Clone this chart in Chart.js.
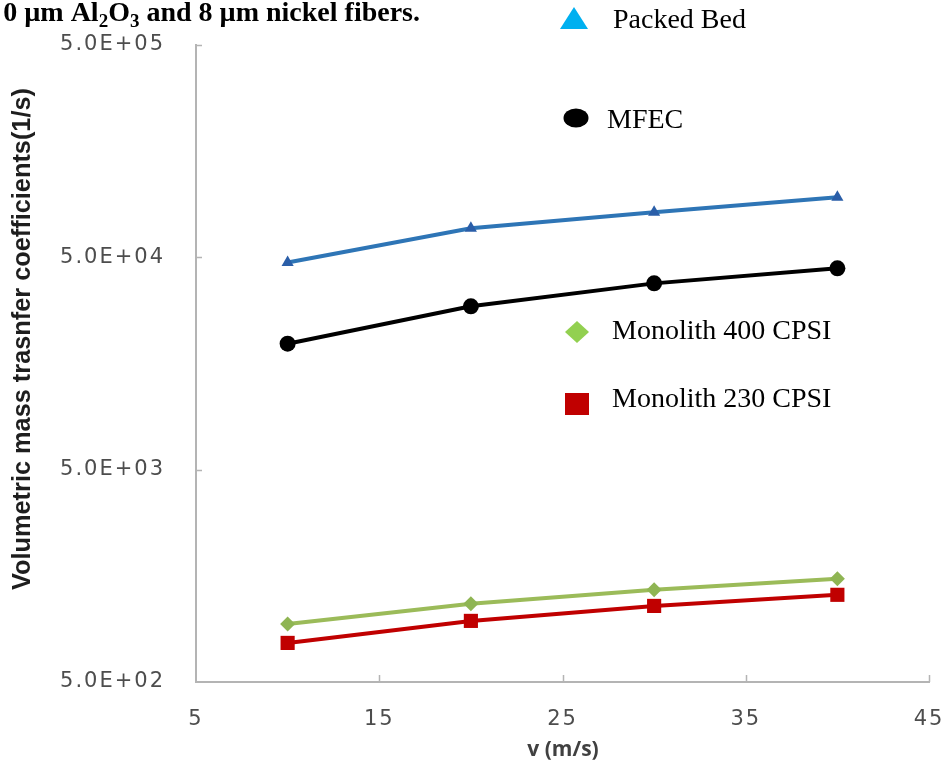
<!DOCTYPE html>
<html>
<head>
<meta charset="utf-8">
<script src="https://cdn.jsdelivr.net/npm/chart.js@4/dist/chart.umd.min.js"></script>
<style>
  html, body { margin: 0; padding: 0; background: #ffffff; }
  #wrap { position: relative; width: 951px; height: 773px; }
</style>
</head>
<body>
<div id="wrap"><canvas id="chart" width="951" height="773"></canvas></div>
<script>
// Air velocity (m/s)
const velocities = [10, 20, 30, 40];

// Volumetric mass transfer coefficients (1/s)
const packedBed = [47300, 68500, 81500, 96000];
const mfec      = [19600, 29400, 37700, 44400];
const mono400   = [938, 1167, 1358, 1530];
const mono230   = [764, 970, 1141, 1287];

const seriesNames = ['Packed Bed', 'MFEC', 'Monolith 400 CPSI', 'Monolith 230 CPSI'];

// Axis tick values
const xTicks = [5, 15, 25, 35, 45];
const yTicks = [500, 5000, 50000, 500000];

const AXIS_GREY = '#b4b4b4';

function sci(v) {
  const e = Math.floor(Math.log10(v) + 1e-9);
  const m = v / Math.pow(10, e);
  return m.toFixed(1) + 'E+' + String(e).padStart(2, '0');
}

function pts(ys) {
  return velocities.map((x, i) => ({ x: x, y: ys[i] }));
}

// Small inward tick marks on both axes, plus all the free-standing text
const decorations = {
  id: 'decorations',
  beforeDraw(chart) {
    chart.ctx.letterSpacing = '2px';
  },
  afterDraw(chart) {
    const ctx = chart.ctx;
    ctx.letterSpacing = '0px';
    const area = chart.chartArea;
    const xs = chart.scales.x, ys = chart.scales.y;

    ctx.save();
    ctx.strokeStyle = AXIS_GREY;
    ctx.lineWidth = 1.5;
    ctx.beginPath();
    xTicks.slice(1).forEach(v => {
      const px = Math.round(xs.getPixelForValue(v)) + 0.5;
      ctx.moveTo(px, area.bottom);
      ctx.lineTo(px, area.bottom - 7);
    });
    yTicks.slice(1).forEach(v => {
      const py = Math.round(ys.getPixelForValue(v)) + 0.5;
      ctx.moveTo(area.left, py);
      ctx.lineTo(area.left + 6, py);
    });
    ctx.stroke();
    ctx.restore();

    // Caption fragment along the top edge
    ctx.save();
    ctx.fillStyle = '#000000';
    ctx.textBaseline = 'alphabetic';
    ctx.textAlign = 'left';
    const big = 'bold 28px "Liberation Serif"';
    const small = 'bold 19px "Liberation Serif"';
    const parts = [
      { t: '0 \u00b5m Al', f: big, dy: 0 },
      { t: '2', f: small, dy: 6 },
      { t: 'O', f: big, dy: 0 },
      { t: '3', f: small, dy: 6 },
      { t: ' and 8 \u00b5m nickel fibers.', f: big, dy: 0 }
    ];
    let total = 0;
    parts.forEach(p => { ctx.font = p.f; p.w = ctx.measureText(p.t).width; total += p.w; });
    let cx = 420 - total;
    parts.forEach(p => { ctx.font = p.f; ctx.fillText(p.t, cx, 21 + p.dy); cx += p.w; });
    ctx.restore();

    // Legend
    ctx.save();
    ctx.fillStyle = '#00b0f0';
    ctx.beginPath();
    ctx.moveTo(574, 7); ctx.lineTo(588, 29); ctx.lineTo(560, 29); ctx.closePath();
    ctx.fill();
    ctx.fillStyle = '#000000';
    ctx.beginPath();
    ctx.ellipse(576, 118, 12.5, 9.5, 0, 0, Math.PI * 2);
    ctx.fill();
    ctx.fillStyle = '#92d050';
    ctx.beginPath();
    ctx.moveTo(577, 321); ctx.lineTo(589, 332); ctx.lineTo(577, 343); ctx.lineTo(565, 332); ctx.closePath();
    ctx.fill();
    ctx.fillStyle = '#c00000';
    ctx.fillRect(565, 393, 24, 22);

    ctx.fillStyle = '#000000';
    ctx.font = '28px "Liberation Serif"';
    ctx.textBaseline = 'middle';
    ctx.textAlign = 'left';
    ctx.fillText(seriesNames[0], 613, 21);
    ctx.fillText(seriesNames[1], 607, 121);
    ctx.fillText(seriesNames[2], 612, 332);
    ctx.fillText(seriesNames[3], 612, 400);
    ctx.restore();

    // Axis titles
    ctx.save();
    ctx.fillStyle = '#1e1e1e';
    ctx.font = 'bold 25px "Liberation Sans"';
    const yTitle = 'Volumetric mass trasnfer coefficients(1/s)';
    const w = ctx.measureText(yTitle).width;
    ctx.translate(23, 339);
    ctx.rotate(-Math.PI / 2);
    ctx.scale(502 / w, 1);
    ctx.textAlign = 'center';
    ctx.textBaseline = 'middle';
    ctx.fillText(yTitle, 0, 0);
    ctx.restore();

    ctx.save();
    ctx.fillStyle = '#404040';
    ctx.font = 'bold 21px "Open Sans"';
    ctx.textAlign = 'center';
    ctx.textBaseline = 'middle';
    ctx.fillText('v (m/s)', 563, 750);
    ctx.restore();
  }
};

new Chart(document.getElementById('chart'), {
  type: 'line',
  data: {
    datasets: [
      {
        label: seriesNames[0],
        data: pts(packedBed),
        borderColor: '#2e75b6',
        backgroundColor: '#2a5ea8',
        borderWidth: 4,
        pointStyle: 'triangle',
        pointRadius: 7,
        pointBorderWidth: 0
      },
      {
        label: seriesNames[1],
        data: pts(mfec),
        borderColor: '#000000',
        backgroundColor: '#000000',
        borderWidth: 4,
        pointStyle: 'circle',
        pointRadius: 8,
        pointBorderWidth: 0
      },
      {
        label: seriesNames[2],
        data: pts(mono400),
        borderColor: '#9bbb59',
        backgroundColor: '#8fb553',
        borderWidth: 4,
        pointStyle: 'rectRot',
        pointRadius: 7.5,
        pointBorderWidth: 0
      },
      {
        label: seriesNames[3],
        data: pts(mono230),
        borderColor: '#c00000',
        backgroundColor: '#c00000',
        borderWidth: 4,
        pointStyle: 'rect',
        pointRadius: 10,
        pointBorderWidth: 0
      }
    ]
  },
  options: {
    responsive: false,
    animation: false,
    events: [],
    layout: { padding: { top: 45, right: 22, left: 0, bottom: 0 } },
    plugins: {
      legend: { display: false },
      tooltip: { enabled: false },
      title: { display: false }
    },
    scales: {
      x: {
        type: 'linear',
        min: 5,
        max: 45,
        afterBuildTicks(scale) { scale.ticks = xTicks.map(v => ({ value: v })); },
        afterFit(scale) {
          scale.height = 91;
          scale.paddingLeft = 0;
          scale.paddingRight = 0;
        },
        grid: { display: false, drawTicks: false },
        border: { display: true, color: AXIS_GREY, width: 2 },
        ticks: {
          padding: 25,
          color: '#4d4d4d',
          font: { family: '"DejaVu Sans"', size: 21 },
          maxRotation: 0,
          autoSkip: false
        }
      },
      y: {
        type: 'logarithmic',
        min: 500,
        max: 500000,
        afterBuildTicks(scale) { scale.ticks = yTicks.map(v => ({ value: v })); },
        afterFit(scale) {
          scale.width = 196;
          scale.paddingTop = 0;
          scale.paddingBottom = 0;
        },
        grid: { display: false, drawTicks: false },
        border: { display: true, color: AXIS_GREY, width: 2 },
        ticks: {
          padding: 31,
          color: '#4d4d4d',
          font: { family: '"DejaVu Sans"', size: 21 },
          autoSkip: false,
          callback: (v) => sci(v)
        }
      }
    }
  },
  plugins: [decorations]
});
</script>
</body>
</html>
